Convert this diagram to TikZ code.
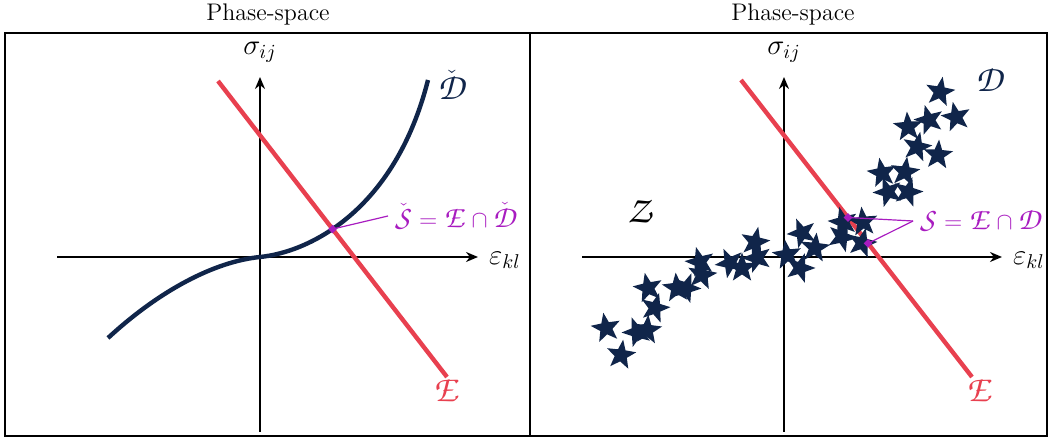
\documentclass[tikz,border=0pt]{standalone}
\usepackage{amsmath,amssymb}
\usepackage{graphicx}
\usepackage{xcolor}
\usepackage{tikz}
\usetikzlibrary{arrows.meta,positioning,shapes.geometric,intersections}
\DeclareMathAlphabet{\mathcal}{OT1}{pzc}{m}{it}
\newcommand{\calx}[1]{\scalebox{1.3}{$\mathcal{#1}$}}
\definecolor{navy}{HTML}{10254A}
\definecolor{linered}{HTML}{E8404F}
\definecolor{setpurple}{HTML}{A81CC0}

\begin{document}
\begin{tikzpicture}[x=0.5pt,y=0.5pt,
  axis/.style={line width=1.1pt,-{Stealth[length=6pt,width=5pt]}},
  elast/.style={linered,line width=2.2pt},
  datum/.style={star,star points=5,star point ratio=2.4,fill=navy,inner sep=0pt,minimum size=15.5pt},
  hit/.style={diamond,fill=setpurple,inner sep=0pt,minimum size=4.5pt},
  pointer/.style={setpurple,line width=0.6pt}]
\useasboundingbox (0,0) rectangle (1051,-437);
% panels
\draw[line width=0.8pt] (5,-33) rectangle (530,-436);
\draw[line width=0.8pt] (530,-33) rectangle (1047,-436);
\node (titleL) at (268,-15) {\large Phase-space};
\node (titleR) at (793,-15) {\large Phase-space};

% left panel: smooth response
\coordinate (xL0) at (57,-257);
\coordinate (xL1) at (478,-257);
\coordinate (yL0) at (260,-432);
\coordinate (yL1) at (260,-77);
\coordinate (oL) at (260,-257);
\draw[axis] (xL0) -- (xL1);
\draw[axis] (yL0) -- (yL1);
\node[anchor=west] (epsL) at (482,-260) {\Large $\varepsilon_{kl}$};
\node (sigL) at (260,-52) {\Large $\sigma_{ij}$};
\draw[elast,name path=redL] (218,-81) -- (447,-377);
\draw[navy,line width=2.2pt,name path=curveL] (108,-338)
  .. controls (160,-290) and (215,-261.5) .. (oL)
  .. controls (310,-252) and (395,-210) .. (428,-80);
\path[name intersections={of=curveL and redL,by=hitL}];
\node[linered] (lblEL) at (447,-390) {\Large $\calx{E}$};
\node[navy] (lblDL) at (452,-85) {\Large $\check{\calx{D}}$};
\node[setpurple,anchor=west] (lblSL) at (388,-216) {\large $\check{\calx{S}}=\calx{E}\cap\check{\calx{D}}$};
\draw[pointer] (hitL) -- (lblSL.west);
\node[hit] (pL) at (hitL) {};

% right panel: data points
\coordinate (xR0) at (582,-257);
\coordinate (xR1) at (1002,-257);
\coordinate (yR0) at (784,-432);
\coordinate (yR1) at (784,-77);
\draw[axis] (xR0) -- (xR1);
\draw[axis] (yR0) -- (yR1);
\node[anchor=west] (epsR) at (1006,-260) {\Large $\varepsilon_{kl}$};
\node (sigR) at (784,-52) {\Large $\sigma_{ij}$};
\draw[elast] (741,-80) -- coordinate[pos=0.463] (hitR1) coordinate[pos=0.55] (hitR2) (972,-377);
\foreach \x/\y/\r [count=\k] in {
  606/328/10, 621/355/-8, 637/332/20, 647/330/-5, 648/288/12,
  655/308/-15, 677/288/5, 686/288/-20, 700/262/15, 702/275/-10,
  730/263/25, 742/268/0, 755/242/-12, 757/258/18, 787/255/8,
  800/268/-18, 802/233/22, 815/248/-6, 843/222/14, 842/237/-22,
  863/222/6, 862/243/-14, 882/173/10, 905/172/-8, 888/192/20,
  908/192/-16, 908/127/4, 917/147/-12, 929/120/16, 938/155/-4,
  956/117/12, 940/92/-10}
{
  \node[datum,rotate=\r] (star\k) at (\x,-\y) {};
}
\node[linered] (lblER) at (980,-390) {\Large $\calx{E}$};
\node[navy] (lblDR) at (990,-80) {\Large $\calx{D}$};
\node (lblZ) at (640,-211) {\Large $\calx{Z}$};
\node[setpurple,anchor=west] (lblSR) at (913,-221) {\large $\calx{S}=\calx{E}\cap\calx{D}$};
\draw[pointer] (hitR1) -- (lblSR.west);
\draw[pointer] (hitR2) -- (lblSR.west);
\node[hit] (pR1) at (hitR1) {};
\node[hit] (pR2) at (hitR2) {};
\end{tikzpicture}
\end{document}
